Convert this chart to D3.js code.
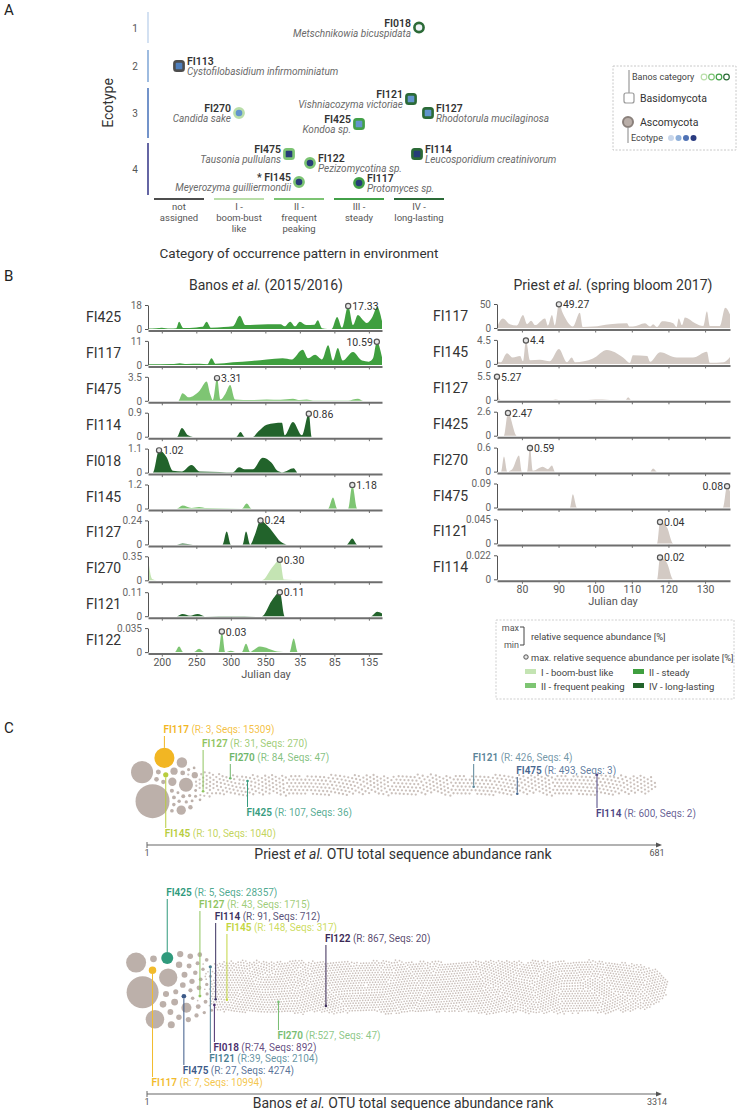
<!DOCTYPE html>
<html>
<head>
<meta charset="utf-8">
<script src="https://cdn.jsdelivr.net/npm/d3@7"></script>
<style>
body{margin:0;background:#fff;}
svg{font-family:Roboto, "Open Sans", sans-serif;}
</style>
</head>
<body>
<svg id="fig" width="738" height="1110"></svg>
<script>
// ---------- panel A data
var isolates = ["FI018","FI113","FI270","FI425","FI121","FI127","FI475","FI122","FI145","FI117","FI114"];
var species = ["Metschnikowia bicuspidata","Cystofilobasidium infirmominiatum","Candida sake","Kondoa sp.","Vishniacozyma victoriae","Rhodotorula mucilaginosa","Tausonia pullulans","Pezizomycotina sp.","Meyerozyma guilliermondii","Protomyces sp.","Leucosporidium creatinivorum"];
var phylum = ["Asco","Basidio","Asco","Basidio","Basidio","Basidio","Basidio","Asco","Asco","Asco","Basidio"];
var ecotype = [1,2,3,3,3,3,4,4,4,4,4];
var category = ["IV","not","I","III","IV","IV","II","II","II","III","IV"];
var categories = ["not","I","II","III","IV"];
var categoryLabels = [["not","assigned"],["I -","boom-bust","like"],["II -","frequent","peaking"],["III -","steady"],["IV -","long-lasting"]];
var ecotypes = [1,2,3,4];

// ---------- panel B data (julian day, relative abundance %)
var banosIds = ["FI425","FI117","FI475","FI114","FI018","FI145","FI127","FI270","FI121","FI122"];
var banosMax = [18,11,3.5,0.9,1.1,1.2,0.24,0.35,0.11,0.035];
var banosPeak = ["17.33","10.59","3.31","0.86","1.02","1.18","0.24","0.30","0.11","0.03"];
var banosCat = ["III","III","II","IV","IV","II","IV","I","IV","II"];
var banosFI425 = [[180,0.3],[192,0.6],[200,1],[212,0.3],[221,0.5],[225,5.5],[231,0.8],[250,1.2],[259,1.6],[265,5.5],[271,1],[290,1.5],[303,2],[313,10],[321,3],[335,3.2],[372,3.5],[378,2],[386,5.5],[393,2],[400,5.5],[409,3],[421,3.2],[426,6.5],[432,0.5],[440,0],[446,0],[454,9],[461,1],[470,17.33],[477,3],[484,10.5],[491,7],[497,4.5],[505,9],[512,16.5],[519,6]];
var banosFI117 = [[180,0.3],[215,0.4],[226,0.8],[236,0.4],[255,0.5],[266,0.3],[272,3.1],[278,0.5],[303,1.2],[330,1.8],[352,2.5],[375,3],[388,2.5],[404,7],[412,3],[422,4.6],[432,2.5],[441,9],[448,2],[455,7.7],[462,2],[477,5.9],[490,2],[500,1.5],[506,3],[511.5,10.59],[519,3.5]];
var banosFI475 = [[180,0],[224,0],[230,1.1],[239,0.5],[255,1.5],[265,2.8],[270,1],[274,0.1],[280,3.31],[285,0.2],[292,1],[299,2.3],[306,0.2],[330,0.1],[352,0.2],[372,0.15],[390,0.3],[400,0.1],[410,0.2],[419,0.05],[470,0.05],[484,0.3],[492,0],[519,0]];
var banosFI114 = [[180,0],[222,0],[229,0.33],[238,0.05],[245,0],[308,0],[314,0.18],[320,0],[332,0],[340,0.2],[352,0.45],[374,0.52],[378,0.05],[390,0.55],[403,0.05],[413,0.86],[417,0],[519,0]];
var banosFI018 = [[180,0],[187,0],[196,1.02],[207,0.7],[216,0.08],[229,0.05],[243,0.35],[255,0.05],[284,0.03],[303,0.02],[312,0.25],[320,0.15],[332,0.15],[346,0.68],[359,0.45],[367,0.1],[375,0.02],[391,0.2],[397,0],[519,0]];
var banosFI145 = [[180,0],[222,0],[230,0.15],[243,0.03],[254,0.08],[265,0.02],[316,0],[323,0.25],[330,0],[441,0],[448,0.55],[454,0],[470,0],[476,1.18],[483,0],[519,0]];
var banosFI127 = [[180,0],[222,0],[230,0.008],[245,0],[288,0],[294,0.13],[300,0],[317,0],[322,0.13],[328,0],[335,0.1],[343,0.24],[354,0.18],[374,0.02],[381,0],[468,0],[476,0.06],[483,0],[519,0]];
var banosFI270 = [[180,0.33],[186,0.02],[193,0],[345,0],[361,0.2],[371,0.3],[377,0.01],[390,0.005],[519,0]];
var banosFI121 = [[180,0],[222,0],[230,0.01],[241,0.002],[252,0.01],[262,0],[303,0.001],[345,0],[359,0.07],[371,0.11],[378,0],[503,0],[512,0.02],[519,0.012]];
var banosFI122 = [[180,0],[219,0],[225,0.008],[231,0],[246,0],[254,0.005],[262,0],[282,0],[287,0.03],[292,0],[300,0.002],[308,0],[316,0],[322,0.012],[328,0],[333,0.003],[342,0.008],[367,0.001],[385,0],[391,0.02],[397,0],[519,0]];
var banosSeries = [banosFI425,banosFI117,banosFI475,banosFI114,banosFI018,banosFI145,banosFI127,banosFI270,banosFI121,banosFI122];
var banosTicks = [200,250,300,350,400,450,500];

var priestIds = ["FI117","FI145","FI127","FI425","FI270","FI475","FI121","FI114"];
var priestMax = [50,4.5,5.5,2.6,0.6,0.09,0.045,0.022];
var priestPeak = ["49.27","4.4","5.27","2.47","0.59","0.08","0.04","0.02"];
var priestFI117 = [[73.2,2],[74.8,20],[76.7,8],[78.6,5],[80.3,27],[81.4,8],[82.5,15],[83.6,6],[86.3,20],[87.1,5],[88.2,27],[89,5],[90.1,49.27],[91.2,30],[93.9,3],[95.8,32],[96.6,2],[99.4,3],[104,8],[108.7,10],[109.3,3],[110.3,3],[113.6,10],[115,3],[115.8,8],[116.9,2],[118.3,14],[121.3,10],[122.2,2],[122.8,20],[123.7,6],[124.5,22],[127.3,10],[129.5,4],[130.5,35],[131.3,4],[134,4],[135.5,42],[136.8,28]];
var priestFI145 = [[73.2,0.5],[74.2,0.3],[75.9,2],[77.5,1.2],[79.5,1.5],[80.3,0.5],[81.1,4.4],[82.2,0.7],[84.9,0.8],[87.6,0.5],[90.1,2.8],[92.3,0.3],[93.6,1.2],[94.5,0.3],[99.4,1],[103.2,2.6],[107.6,1.2],[109.5,0.2],[110.3,1.6],[114.2,1.5],[115,0.4],[117.7,2.2],[122.3,1.2],[126.7,1.2],[130.5,2.3],[131.3,0.2],[135,0.3],[136.8,1.3]];
var priestFI127 = [[73.2,5.27],[73.8,0.2],[74.5,0],[88.5,0],[89.2,0.15],[90,0],[98,0],[100,0.15],[102,0.12],[104,0],[108.3,0],[109,0.6],[109.8,0],[136.8,0]];
var priestFI425 = [[73.2,0],[75.1,0],[76.2,2.47],[78.6,0],[136.8,0]];
var priestFI270 = [[73.2,0],[74.3,0],[75.1,0.38],[76,0],[77.3,0.05],[79.2,0.4],[80,0],[81.4,0],[82.2,0.59],[83,0.02],[85.7,0.12],[87.1,0.06],[88.2,0.15],[89,0],[115,0],[115.8,0.08],[116.9,0],[136.8,0]];
var priestFI475 = [[73.2,0],[93.1,0],[93.9,0.05],[95,0],[134.9,0],[136,0.08],[136.8,0.06]];
var priestFI121 = [[73.2,0],[116.9,0],[117.7,0.04],[119.6,0.03],[121.3,0],[136.8,0]];
var priestFI114 = [[73.2,0],[116.9,0],[117.7,0.02],[119.6,0.015],[121.3,0],[136.8,0]];
var priestSeries = [priestFI117,priestFI145,priestFI127,priestFI425,priestFI270,priestFI475,priestFI121,priestFI114];
var priestTicks = [80,90,100,110,120,130];

// ---------- panel C data (sequence counts of the leading OTUs by rank; the rest are drawn at minimum size)
var priestLead = [44000,18500,15309,7500,4200,3300,2600,2000,1500,1040,950,880,820,760,700,650,600,560,520,480,450,420,400,380,360,340,320,305,290,280,270];
var priestTotal = 681;
var priestMarkId = ["FI117","FI127","FI270","FI121","FI475","FI425","FI114","FI145"];
var priestMarkRank = [3,31,84,426,493,107,600,10];
var priestMarkSeqs = [15309,270,47,4,3,36,2,1040];
var banosLead = [202000,79000,68000,66000,28357,20000,10994,9800,9400,9000,8600,8200,7800,7400,7000,6700,6400,6100,5800,5500,5300,5100,4900,4700,4550,4400,4274,4000,3700,3450,3200,3000,2800,2650,2500,2380,2260,2180,2104,2000,1900,1800,1715];
var banosTotal = 3314;
var banosMarkId = ["FI425","FI127","FI114","FI145","FI122","FI270","FI018","FI121","FI475","FI117"];
var banosMarkRank = [5,43,91,148,867,527,74,39,27,7];
var banosMarkSeqs = [28357,1715,712,317,20,47,892,2104,4274,10994];

// ---------------------------------------------------------------
var svg = d3.select("#fig");
var FONT = "Roboto, 'Open Sans', sans-serif";

function panelLabel(t, y){
  svg.append("text").attr("x",4).attr("y",y).attr("font-size",15).attr("fill","#222").text(t);
}
panelLabel("A", 15); panelLabel("B", 281); panelLabel("C", 733);

// ---------- panel A
var catX = d3.scalePoint().domain(categories).range([179, 419]);
var catColor = d3.scaleOrdinal().domain(categories).range(["#4d4d4d","#b9dea9","#7cc473","#42a048","#2b6a37"]);
var ecoFill = d3.scaleOrdinal().domain(ecotypes).range(["#eef3f9","#4f7fbd","#6294cd","#263c78"]);
var ecoAxis = d3.scaleOrdinal().domain(ecotypes).range(["#c9daef","#86abd9","#5078bd","#3e3f8d"]);
var ecoBand = d3.scaleOrdinal().domain(ecotypes).range([[12,43],[50,82],[88,138],[143,195]]);
// jitter inside a cell and label side
var aLayout = {FI018:[0,0,"L"],FI113:[0,0,"R"],FI270:[0,0,"L"],FI425:[0,11,"L"],FI121:[-8,-14,"L"],FI127:[9,0,"R"],FI475:[-10,-15,"L"],FI122:[11,-6,"R"],FI145:[0,13,"L"],FI117:[0,14,"R"],FI114:[-2,-15,"R"]};

var gA = svg.append("g");
ecotypes.forEach(function(e){
  var b = ecoBand(e);
  gA.append("line").attr("x1",148).attr("x2",148).attr("y1",b[0]).attr("y2",b[1])
    .attr("stroke",ecoAxis(e)).attr("stroke-width",1.6);
  gA.append("text").attr("x",135).attr("y",(b[0]+b[1])/2+4).attr("text-anchor","middle")
    .attr("font-size",10).attr("fill","#555").text(e);
});
gA.append("text").attr("transform","translate(113,103) rotate(-90)").attr("text-anchor","middle")
  .attr("font-size",14).attr("fill","#333").text("Ecotype");
categories.forEach(function(c,i){
  var cx = catX(c);
  gA.append("line").attr("x1",cx-25).attr("x2",cx+25).attr("y1",199).attr("y2",199)
    .attr("stroke",catColor(c)).attr("stroke-width",1.8);
  categoryLabels[i].forEach(function(s,j){
    gA.append("text").attr("x",cx).attr("y",210+j*11).attr("text-anchor","middle")
      .attr("font-size",9.5).attr("fill","#555").text(s);
  });
});
gA.append("text").attr("x",299).attr("y",258).attr("text-anchor","middle")
  .attr("font-size",13.5).attr("fill","#333").text("Category of occurrence pattern in environment");

isolates.forEach(function(id,i){
  var lay = aLayout[id], b = ecoBand(ecotype[i]);
  var cx = catX(category[i]) + lay[0], cy = (b[0]+b[1])/2 + lay[1];
  var m;
  if (phylum[i] == "Basidio") {
    m = gA.append("rect").attr("x",cx-4.6).attr("y",cy-4.6).attr("width",9.2).attr("height",9.2).attr("rx",2.2);
  } else {
    m = gA.append("circle").attr("cx",cx).attr("cy",cy).attr("r",4.6);
  }
  m.attr("fill",ecoFill(ecotype[i])).attr("stroke",catColor(category[i])).attr("stroke-width",2.6);
  var right = lay[2] == "R";
  var tx = right ? cx+8 : cx-8, anchor = right ? "start" : "end";
  gA.append("text").attr("x",tx).attr("y",cy-1).attr("text-anchor",anchor)
    .attr("font-size",10.5).attr("font-weight",600).attr("fill","#333")
    .text(id == "FI145" ? "* " + id : id);
  gA.append("text").attr("x",tx).attr("y",cy+9).attr("text-anchor",anchor)
    .attr("font-size",10).attr("font-style","italic").attr("fill","#6a6a6a").text(species[i]);
});

// legend A
var lgA = svg.append("g");
lgA.append("rect").attr("x",613).attr("y",66).attr("width",123).attr("height",84)
  .attr("fill","none").attr("stroke","#c8c8c8").attr("stroke-dasharray","2,1.5");
lgA.append("line").attr("x1",629).attr("x2",629).attr("y1",70).attr("y2",93).attr("stroke","#999").attr("stroke-width",1.2);
lgA.append("text").attr("x",632).attr("y",80).attr("font-size",9).attr("fill","#444").text("Banos category");
["I","II","III","IV"].forEach(function(c,i){
  lgA.append("circle").attr("cx",704+i*7.5).attr("cy",77).attr("r",2.8).attr("fill","#fff")
    .attr("stroke",catColor(c)).attr("stroke-width",1.2);
});
lgA.append("rect").attr("x",624).attr("y",93).attr("width",10).attr("height",10).attr("rx",2)
  .attr("fill","#fff").attr("stroke","#999").attr("stroke-width",1.2);
lgA.append("text").attr("x",640).attr("y",102).attr("font-size",10.5).attr("fill","#333").text("Basidomycota");
lgA.append("circle").attr("cx",628).attr("cy",122).attr("r",5).attr("fill","#b9aea8").attr("stroke","#8a807b").attr("stroke-width",2);
lgA.append("text").attr("x",640).attr("y",126).attr("font-size",10.5).attr("fill","#333").text("Ascomycota");
lgA.append("line").attr("x1",628).attr("x2",628).attr("y1",127).attr("y2",143).attr("stroke","#999").attr("stroke-width",1.2);
lgA.append("text").attr("x",631).attr("y",141).attr("font-size",9).attr("fill","#444").text("Ecotype");
["#c8d6ea","#8fb0da","#4f72b5","#2a3b80"].forEach(function(c,i){
  lgA.append("circle").attr("cx",671+i*7.5).attr("cy",138).attr("r",3).attr("fill",c);
});

// ---------- panel B
var bColor = d3.scaleOrdinal().domain(["I","II","III","IV"]).range(["#c4e4b3","#7ec573","#3f9f3f","#22632b"]);
var priestFill = "#d3cac4";
var bTop0 = 305, bPitch = 35.9, bH = 24;
var xL = d3.scaleLinear().domain([180,519]).range([148,382]);
var xR = d3.scaleLinear().domain([73.2,136.8]).range([497,730]);

function titleEt(x, y, before, after){
  var t = svg.append("text").attr("x",x).attr("y",y).attr("text-anchor","middle").attr("font-size",14).attr("fill","#333");
  t.append("tspan").text(before);
  t.append("tspan").attr("font-style","italic").text("et al.");
  t.append("tspan").text(after);
}
titleEt(266, 290, "Banos ", " (2015/2016)");
titleEt(613, 290, "Priest ", " (spring bloom 2017)");

function drawRow(x, top, data, yMax, color, id, peak, labelX, last, ticks, fmt){
  var base = top + bH;
  var y = d3.scaleLinear().domain([0,yMax]).range([base, top]);
  var g = svg.append("g");
  var area = d3.area().x(function(d){return x(d[0]);}).y0(base).y1(function(d){return y(d[1]);}).curve(d3.curveMonotoneX);
  g.append("path").datum(data).attr("d",area).attr("fill",color);
  var xa = d3.axisBottom(x).tickValues(ticks).tickSize(3).tickPadding(1.5).tickSizeOuter(0)
    .tickFormat(last ? fmt : function(){return "";});
  var gx = g.append("g").attr("transform","translate(0,"+(base+1.5)+")").call(xa);
  gx.attr("font-family",FONT);
  gx.select(".domain").attr("stroke","#6e6e6e").attr("stroke-width",2);
  gx.selectAll(".tick line").attr("stroke","#6e6e6e");
  gx.selectAll(".tick text").attr("font-size",10.5).attr("fill","#555");
  var ya = d3.axisLeft(y).tickValues([0,yMax]).tickSize(3).tickSizeOuter(0).tickFormat(function(d){return String(d);});
  var gy = g.append("g").attr("transform","translate("+x.range()[0]+",0)").call(ya);
  gy.attr("font-family",FONT);
  gy.select(".domain").attr("stroke","#555").attr("stroke-width",1);
  gy.selectAll(".tick line").attr("stroke","#555");
  gy.selectAll(".tick text").attr("font-size",10).attr("fill","#666");
  // row label
  g.append("text").attr("x",labelX).attr("y",(top+base)/2+5).attr("font-size",14).attr("fill","#333").text(id);
  // peak marker: the point carrying the printed maximum
  var target = parseFloat(peak);
  var pk = data.reduce(function(a,b){return Math.abs(b[1]-target) < Math.abs(a[1]-target) ? b : a;});
  var px = x(pk[0]), py = y(pk[1]);
  g.append("circle").attr("cx",px).attr("cy",py).attr("r",2.6).attr("fill","#e6e6e6").attr("stroke","#555").attr("stroke-width",1.2);
  var left = px > x.range()[1] - 8;
  g.append("text").attr("x",left ? px-4 : px+4).attr("y",py+4).attr("text-anchor",left ? "end" : "start")
    .attr("font-size",10.5).attr("fill","#333").text(peak);
  return base;
}

var lastBaseL, lastBaseR;
banosIds.forEach(function(id,i){
  lastBaseL = drawRow(xL, bTop0 + i*bPitch, banosSeries[i], banosMax[i], bColor(banosCat[i]), id, banosPeak[i], 86,
    i == banosIds.length-1, banosTicks, function(d){return d > 365 ? d-365 : d;});
});
priestIds.forEach(function(id,i){
  lastBaseR = drawRow(xR, bTop0 - 1 + i*bPitch, priestSeries[i], priestMax[i], priestFill, id, priestPeak[i], 433,
    i == priestIds.length-1, priestTicks, function(d){return d;});
});
svg.append("text").attr("x",266).attr("y",lastBaseL+26).attr("text-anchor","middle").attr("font-size",11).attr("fill","#555").text("Julian day");
svg.append("text").attr("x",613).attr("y",lastBaseR+26).attr("text-anchor","middle").attr("font-size",11).attr("fill","#555").text("Julian day");

// legend B
var lgB = svg.append("g");
lgB.append("rect").attr("x",496).attr("y",620).attr("width",238).attr("height",79)
  .attr("fill","none").attr("stroke","#cfcfcf").attr("stroke-dasharray","2,1.5");
lgB.append("text").attr("x",519).attr("y",631).attr("text-anchor","end").attr("font-size",9).attr("fill","#555").text("max");
lgB.append("text").attr("x",519).attr("y",648).attr("text-anchor","end").attr("font-size",9).attr("fill","#555").text("min");
lgB.append("path").attr("d","M520,627 h4 V645 h-4").attr("fill","none").attr("stroke","#444").attr("stroke-width",1);
lgB.append("text").attr("x",531).attr("y",640).attr("font-size",9.3).attr("fill","#444").text("relative sequence abundance [%]");
lgB.append("circle").attr("cx",526).attr("cy",657).attr("r",2.2).attr("fill","#e6e6e6").attr("stroke","#555").attr("stroke-width",1);
lgB.append("text").attr("x",531).attr("y",660.5).attr("font-size",9.3).attr("fill","#444").text("max. relative sequence abundance per isolate [%]");
[["I","I - boom-bust like",525,673],["II","II - frequent peaking",525,687],["III","II - steady",633,673],["IV","IV - long-lasting",633,687]].forEach(function(s){
  lgB.append("rect").attr("x",s[2]).attr("y",s[3]-4).attr("width",11).attr("height",5).attr("fill",bColor(s[0]));
  lgB.append("text").attr("x",s[2]+16).attr("y",s[3]+2.5).attr("font-size",9.5).attr("fill","#444").text(s[1]);
});

// ---------- panel C
var markColor = {
  priest: {FI117:"#f2b623",FI127:"#8fc45f",FI270:"#6fb66b",FI121:"#5b8599",FI475:"#46668f",FI425:"#389c80",FI114:"#4c4582",FI145:"#b8cd3e"},
  banos: {FI425:"#2f9a7c",FI127:"#8fc45f",FI114:"#3a3160",FI145:"#c3d542",FI122:"#3a2955",FI270:"#78bd72",FI018:"#4a2d6b",FI121:"#4b7f93",FI475:"#3c5a88",FI117:"#f2bb2c"}
};
var labelY = {
  priest: {FI117:733,FI127:747,FI270:761,FI121:761,FI475:774,FI425:816,FI114:817,FI145:837},
  banos: {FI425:896,FI127:908,FI114:920,FI145:931,FI122:942,FI270:1039,FI018:1051,FI121:1062,FI475:1074,FI117:1086}
};
var compactR = ["FI270","FI018","FI121"];

function bubbleChart(key, lead, total, markId, markRank, markSeqs, cy, rankDomain, xRange, rMax, rMin, pad, bigPad, spread, phase){
  var rs = d3.scaleSqrt().domain([0, d3.max(lead)]).range([0, rMax]);
  // the big OTUs sit in a blob, the long tail runs along the rank axis
  var xs = d3.scaleLinear().domain(rankDomain).range(xRange);
  var seqByRank = {};
  markRank.forEach(function(r,i){ seqByRank[r] = markSeqs[i]; });
  var nodes = d3.range(total).map(function(i){
    var s = i < lead.length ? lead[i] : (seqByRank[i+1] || 0);
    var tx = xs(i+1);
    return {rank:i+1, big:i < lead.length, r:Math.max(rMin, rs(s)), tx:tx, x:tx,
            y:cy + ((((i+1)*0.6180339887 + phase) % 1) - 0.5)*spread};
  });
  var sim = d3.forceSimulation(nodes)
    .force("x", d3.forceX(function(d){return d.tx;}).strength(function(d){return d.big ? 0.06 : 0.2;}))
    .force("y", d3.forceY(cy).strength(function(d){return d.big ? 0.06 : 0.12;}))
    .force("c", d3.forceCollide(function(d){return d.r + (d.big ? bigPad : pad);}).iterations(2))
    .stop();
  for (var t = 0; t < 340; t++) sim.tick();

  var g = svg.append("g");
  var marked = {};
  markRank.forEach(function(r,i){ marked[r] = markId[i]; });
  g.selectAll("circle.otu").data(nodes.filter(function(d){return !marked[d.rank];}))
    .enter().append("circle").attr("class","otu")
    .attr("cx",function(d){return d.x;}).attr("cy",function(d){return d.y;})
    .attr("r",function(d){return d.r;})
    .attr("fill",function(d){return d.r > rMin ? "#bcb0aa" : "#cbc1bc";});

  markId.forEach(function(id,i){
    var n = nodes[markRank[i]-1], col = markColor[key][id], ly = labelY[key][id];
    var above = ly < n.y;
    g.append("line").attr("x1",n.x).attr("x2",n.x)
      .attr("y1", above ? ly+3 : n.y + n.r)
      .attr("y2", above ? n.y - n.r : ly-9)
      .attr("stroke",col).attr("stroke-width",1);
    g.append("circle").attr("cx",n.x).attr("cy",n.y).attr("r",Math.max(n.r,1.3)).attr("fill",col);
    var sep = (key == "banos" && compactR.indexOf(id) >= 0) ? "R:" : "R: ";
    var t = g.append("text").attr("x",n.x-1).attr("y",ly).attr("font-size",10).attr("fill",col);
    t.append("tspan").attr("font-weight",600).text(id);
    t.append("tspan").attr("fill-opacity",0.85).text(" (" + sep + markRank[i] + ", Seqs: " + markSeqs[i] + ")");
  });
}

function rankAxis(y, total, who){
  var g = svg.append("g");
  g.append("line").attr("x1",147).attr("x2",658).attr("y1",y).attr("y2",y).attr("stroke","#666").attr("stroke-width",1.2);
  g.append("line").attr("x1",147).attr("x2",147).attr("y1",y-3).attr("y2",y+3).attr("stroke","#666");
  g.append("path").attr("d","M656,"+(y-2.5)+" L662,"+y+" L656,"+(y+2.5)+" Z").attr("fill","#555");
  g.append("text").attr("x",147).attr("y",y+11).attr("text-anchor","middle").attr("font-size",9).attr("fill","#555").text("1");
  g.append("text").attr("x",657).attr("y",y+11).attr("text-anchor","middle").attr("font-size",9).attr("fill","#555").text(total);
  var t = g.append("text").attr("x",403).attr("y",y+14).attr("text-anchor","middle").attr("font-size",14).attr("fill","#333");
  t.append("tspan").text(who + " ");
  t.append("tspan").attr("font-style","italic").text("et al.");
  t.append("tspan").text(" OTU total sequence abundance rank");
}

bubbleChart("priest", priestLead, priestTotal, priestMarkId, priestMarkRank, priestMarkSeqs, 785,
  [1,40,681], [160,200,652], 17, 1.15, 0.85, 1.4, 18, 0.25);
rankAxis(845, priestTotal, "Priest");
bubbleChart("banos", banosLead, banosTotal, banosMarkId, banosMarkRank, banosMarkSeqs, 987,
  [1,60,3314], [160,215,655], 16, 0.85, 0.55, 2.2, 52, 0);
rankAxis(1094, banosTotal, "Banos");
</script>
</body>
</html>
